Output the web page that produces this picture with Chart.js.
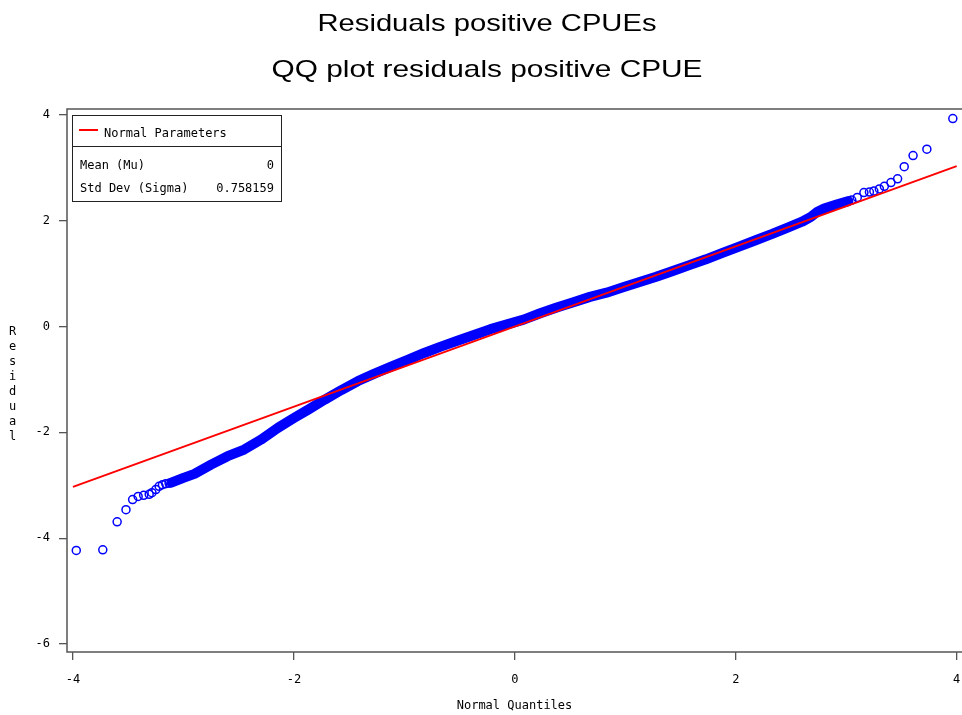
<!DOCTYPE html>
<html lang="en">
<head>
<meta charset="UTF-8">
<title>QQ plot residuals positive CPUE</title>
<style>
  html, body { margin: 0; padding: 0; background: #fff; overflow: hidden; }
  #wrap { width: 962px; height: 715px; position: relative; }
  #wrap canvas { display: block; }
</style>
</head>
<body>
<div id="wrap"><canvas id="qq"></canvas></div>
<script src="https://cdn.jsdelivr.net/npm/chart.js@4.4.1/dist/chart.umd.min.js"></script>
<script>
// values (normal quantile, residual)
var bandQ = [-3.11, -3.0, -2.9, -2.75, -2.6, -2.45, -2.3, -2.145, -2.0, -1.87, -1.72, -1.57, -1.42, -1.27, -1.12,
             -0.97, -0.82, -0.67, -0.52, -0.37, -0.22, -0.07, 0.08, 0.23, 0.38, 0.53, 0.68, 0.83, 0.98, 1.13,
             1.28, 1.43, 1.58, 1.73, 1.88, 2.03, 2.18, 2.33, 2.47, 2.6, 2.68, 2.74, 2.8, 2.92, 3.02];
var bandR = [-2.95, -2.86, -2.785, -2.61, -2.45, -2.325, -2.14, -1.915, -1.73, -1.57, -1.38, -1.20, -1.03, -0.89, -0.76,
             -0.63, -0.50, -0.38, -0.27, -0.16, -0.05, 0.04, 0.13, 0.25, 0.36, 0.46, 0.56, 0.64, 0.74, 0.84,
             0.94, 1.05, 1.16, 1.27, 1.39, 1.51, 1.63, 1.75, 1.87, 1.98, 2.07, 2.17, 2.23, 2.31, 2.37];

// the separate circles in both tails
var tailQ = [-3.97, -3.73, -3.60, -3.52, -3.46, -3.41, -3.36, -3.31, -3.285, -3.25, -3.22, -3.19, -3.16, -3.13,
             3.05, 3.10, 3.16, 3.21, 3.25, 3.30, 3.345, 3.405, 3.465, 3.525, 3.605, 3.73, 3.965];
var tailR = [-4.23, -4.22, -3.69, -3.46, -3.27, -3.21, -3.19, -3.17, -3.14, -3.08, -3.02, -2.99, -2.97, -2.96,
             2.39, 2.44, 2.53, 2.54, 2.56, 2.60, 2.65, 2.72, 2.79, 3.02, 3.23, 3.35, 3.93];

// normal reference line (mu 0, sigma 0.758159)
var refQ = [-4, 4];
var refR = [-3.03, 3.03];

var xTicks = [-4, -2, 0, 2, 4];
var yTicks = [-6, -4, -2, 0, 2, 4];

var titleLines = ['Residuals positive CPUEs', 'QQ plot residuals positive CPUE'];
var legendHead = 'Normal Parameters';
var legendRows = [['Mean (Mu)', '0'], ['Std Dev (Sigma)', '0.758159']];

function pts(q, r) {
    return q.map(function (v, i) { return { x: v, y: r[i] }; });
}

var MONO = '"DejaVu Sans Mono", monospace';
var AXIS = '#555555';

var decor = {
    id: 'decor',
    afterDraw: function (chart) {
        var ctx = chart.ctx, a = chart.chartArea;
        ctx.save();

        // frame: left, top, bottom (right side runs off the page)
        ctx.strokeStyle = AXIS;
        ctx.lineWidth = 1.5;
        ctx.beginPath();
        ctx.moveTo(a.right + 2, a.top);
        ctx.lineTo(a.left, a.top);
        ctx.lineTo(a.left, a.bottom);
        ctx.lineTo(a.right + 2, a.bottom);
        ctx.stroke();

        // titles, wide sans like the original
        ctx.fillStyle = '#000';
        ctx.textAlign = 'center';
        ctx.textBaseline = 'alphabetic';
        ctx.font = '24px "Liberation Sans", Arial, sans-serif';
        [[titleLines[0], 487, 31, 339], [titleLines[1], 487, 77, 431]].forEach(function (t) {
            var sx = t[3] / ctx.measureText(t[0]).width;
            ctx.save();
            ctx.translate(t[1], t[2]);
            ctx.scale(sx, 1);
            ctx.fillText(t[0], 0, 0);
            ctx.restore();
        });

        // stacked y axis label
        ctx.font = '12px ' + MONO;
        ctx.textBaseline = 'middle';
        'Residual'.split('').forEach(function (ch, i) {
            ctx.fillText(ch, 12.5, 332 + 15 * i);
        });

        // parameter box
        ctx.fillStyle = '#fff';
        ctx.fillRect(72.5, 115.5, 209, 86);
        ctx.strokeStyle = '#222';
        ctx.lineWidth = 1;
        ctx.strokeRect(72.5, 115.5, 209, 86);
        ctx.beginPath();
        ctx.moveTo(72.5, 146.5);
        ctx.lineTo(281.5, 146.5);
        ctx.stroke();

        ctx.strokeStyle = '#ff0000';
        ctx.lineWidth = 2;
        ctx.beginPath();
        ctx.moveTo(79, 130);
        ctx.lineTo(98, 130);
        ctx.stroke();

        ctx.fillStyle = '#000';
        ctx.textAlign = 'left';
        ctx.fillText(legendHead, 104, 134);
        legendRows.forEach(function (row, i) {
            var y = 166 + 23 * i;
            ctx.textAlign = 'left';
            ctx.fillText(row[0], 80, y);
            ctx.textAlign = 'right';
            ctx.fillText(row[1], 274, y);
        });

        ctx.restore();
    }
};

new Chart(document.getElementById('qq'), {
    type: 'scatter',
    data: {
        datasets: [
            {
                label: 'Normal Parameters',
                data: pts(refQ, refR),
                showLine: true,
                borderColor: '#ff0000',
                borderWidth: 2,
                pointRadius: 0,
                order: 0
            },
            {
                label: 'Residuals',
                data: pts(bandQ, bandR),
                showLine: true,
                borderColor: '#0000ff',
                borderWidth: 10,
                borderCapStyle: 'round',
                borderJoinStyle: 'round',
                pointRadius: 0,
                order: 1
            },
            {
                label: 'Residuals (tails)',
                data: pts(tailQ, tailR),
                pointStyle: 'circle',
                pointRadius: 4,
                pointBorderWidth: 1.5,
                borderColor: '#0000ff',
                backgroundColor: 'rgba(0,0,0,0)',
                order: 2
            }
        ]
    },
    options: {
        responsive: true,
        maintainAspectRatio: false,
        animation: false,
        devicePixelRatio: 1,
        layout: { autoPadding: false, padding: { top: 109, left: 0, right: 0, bottom: 0 } },
        plugins: {
            legend: { display: false },
            title: { display: false },
            tooltip: { enabled: false }
        },
        scales: {
            x: {
                type: 'linear',
                position: 'bottom',
                min: -4.054,
                max: 4.048,
                afterBuildTicks: function (s) { s.ticks = xTicks.map(function (v) { return { value: v }; }); },
                afterFit: function (s) { s.height = 63; s.paddingLeft = 0; s.paddingRight = 0; },
                border: { display: false },
                grid: { drawOnChartArea: false, drawTicks: true, tickLength: 8, color: AXIS, lineWidth: 1.3 },
                ticks: {
                    color: '#000', padding: 1, maxRotation: 0, autoSkip: false,
                    font: { family: MONO, size: 12, lineHeight: '38px' },
                    callback: function (v) { return String(v); }
                },
                title: {
                    display: true, text: 'Normal Quantiles', color: '#000',
                    font: { family: MONO, size: 12 }, padding: { top: 0, bottom: 2 }
                }
            },
            y: {
                type: 'linear',
                min: -6.15,
                max: 4.11,
                afterBuildTicks: function (s) { s.ticks = yTicks.map(function (v) { return { value: v }; }); },
                afterFit: function (s) { s.width = 67; s.paddingTop = 0; s.paddingBottom = 0; },
                border: { display: false },
                grid: { drawOnChartArea: false, drawTicks: true, tickLength: 8, color: AXIS, lineWidth: 1.3 },
                ticks: {
                    color: '#000', padding: 9, autoSkip: false,
                    font: { family: MONO, size: 12 },
                    callback: function (v) { return String(v); }
                }
            }
        }
    },
    plugins: [decor]
});
</script>
</body>
</html>
